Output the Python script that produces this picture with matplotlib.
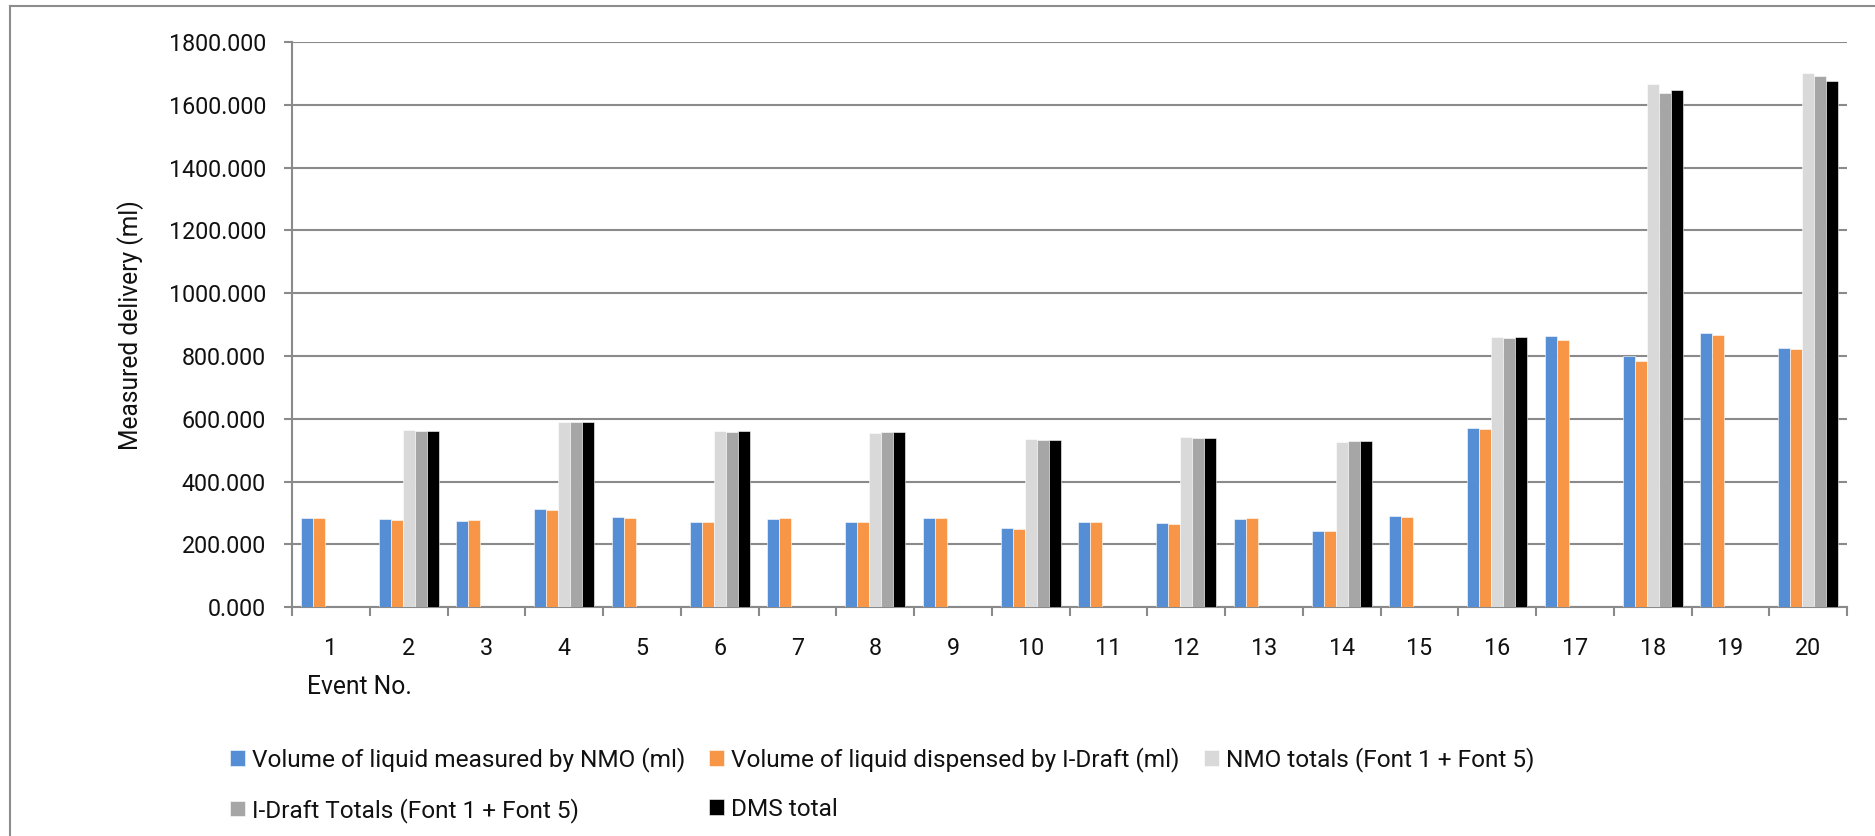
import matplotlib
matplotlib.use("Agg")
import matplotlib.pyplot as plt
import numpy as np
from matplotlib.lines import Line2D

FAMILY = ['Roboto', 'DejaVu Sans']
plt.rcParams['font.family'] = FAMILY

events = [str(i) for i in range(1, 21)]
nmo = [284, 280, 276, 312, 286, 271, 282, 271, 283, 251, 272, 267, 281, 243, 291, 572, 865, 800, 874, 825]
idraft = [283, 277, 277, 311, 283, 271, 283, 272, 283, 249, 272, 266, 283, 243, 289, 568, 852, 783, 868, 823]
nmo_tot = [0, 565, 0, 589, 0, 560, 0, 555, 0, 536, 0, 541, 0, 526, 0, 862, 0, 1665, 0, 1701]
idraft_tot = [0, 561, 0, 589, 0, 557, 0, 557, 0, 533, 0, 539, 0, 528, 0, 857, 0, 1636, 0, 1693]
dms_tot = [0, 561, 0, 589, 0, 561, 0, 557, 0, 533, 0, 539, 0, 528, 0, 862, 0, 1648, 0, 1676]

names = ["Volume of liquid measured by NMO (ml)",
         "Volume of liquid dispensed by I-Draft (ml)",
         "NMO totals (Font 1 + Font 5)",
         "I-Draft Totals (Font 1 + Font 5)",
         "DMS total"]
colors = ["#558ED5", "#F79646", "#D9D9D9", "#A6A6A6", "#000000"]
values = [nmo, idraft, nmo_tot, idraft_tot, dms_tot]

W, H = 1875, 836
fig = plt.figure(figsize=(W / 100, H / 100), dpi=100)
renderer = fig.canvas.get_renderer()


def fit_pt(text, target_px):
    t = fig.text(0, 0, text, fontsize=10)
    w = t.get_window_extent(renderer).width
    t.remove()
    return 10 * target_px / w


tick_pt = fit_pt("1800.000", 97)
leg_pt = fit_pt(names[0], 435)
ylab_pt = fit_pt("Measured delivery (ml)", 250)
xlab_pt = fit_pt("Event No.", 105)

ax_l, ax_r, ax_t, ax_b = 292, 1847, 41.9, 607.3
ax = fig.add_axes([ax_l / W, 1 - ax_b / H, (ax_r - ax_l) / W, (ax_b - ax_t) / H])

x = np.arange(len(events))
bw = 0.154
handles = []
for i, (name, vals, col) in enumerate(zip(names, values, colors)):
    b = ax.bar(x + (i - 2) * bw, vals, width=bw, color=col, label=name, zorder=3,
               edgecolor='white', linewidth=0.4)
    handles.append(b)

gridc = '#8a8a8a'
txtc = '#111111'
ax.set_xlim(-0.5, len(events) - 0.5)
ax.set_ylim(0, 1800)
yt = np.arange(0, 1801, 200)
ax.set_yticks(yt)
ax.set_yticklabels([f"{v:.3f}" for v in yt], fontsize=tick_pt)
ax.yaxis.grid(True, color=gridc, linewidth=1.5, zorder=0)
ax.set_axisbelow(True)
for s in ['top', 'right']:
    ax.spines[s].set_visible(False)
for s in ['left', 'bottom']:
    ax.spines[s].set_color(gridc)
    ax.spines[s].set_linewidth(1.5)
ax.tick_params(axis='y', length=5.8, width=1.5, color=gridc, pad=13, labelcolor=txtc)

ax.set_xticks(x)
ax.set_xticklabels(events, fontsize=tick_pt)
ax.set_xticks(np.arange(-0.5, len(events) + 0.5, 1), minor=True)
fs_px = tick_pt * 100 / 72
ax.tick_params(axis='x', which='major', length=0, pad=(650 - ax_b - 0.55 * fs_px) * 0.72, labelcolor=txtc)
ax.tick_params(axis='x', which='minor', length=6.3, width=1.5, color=gridc)

ax.set_ylabel("Measured delivery (ml)", fontsize=ylab_pt, color=txtc, va='center', ha='center')
ax.yaxis.set_label_coords((131 - ax_l) / (ax_r - ax_l), 0.5)
ax.set_xlabel("Event No.", fontsize=xlab_pt, color=txtc, ha='left', va='center')
ax.xaxis.set_label_coords((307 - ax_l) / (ax_r - ax_l), -(687 - ax_b) / (ax_b - ax_t))

# legend: Excel fills row-wise; matplotlib fills column-wise
order = [0, 3, 1, 4, 2]
lfs = leg_pt * 100 / 72
leg = fig.legend([handles[i] for i in order], [names[i] for i in order], loc='upper left',
                 bbox_to_anchor=(230 / W, 1 - (762 - 0.6 * lfs) / H), ncol=3, frameon=False,
                 fontsize=leg_pt, handlelength=15 / lfs, handleheight=15 / lfs,
                 handletextpad=7 / lfs, columnspacing=24 / lfs,
                 labelspacing=(54.7 - 1.2 * lfs) / lfs,
                 borderpad=0, borderaxespad=0)
for t in leg.get_texts():
    t.set_color(txtc)

# chart area border
fig.add_artist(Line2D([10 / W, 1], [1 - 6 / H, 1 - 6 / H], color='#8c8c8c', linewidth=1.5))
fig.add_artist(Line2D([10 / W, 10 / W], [0, 1 - 6 / H], color='#8c8c8c', linewidth=1.5))

fig.savefig("out.png", dpi=100)
